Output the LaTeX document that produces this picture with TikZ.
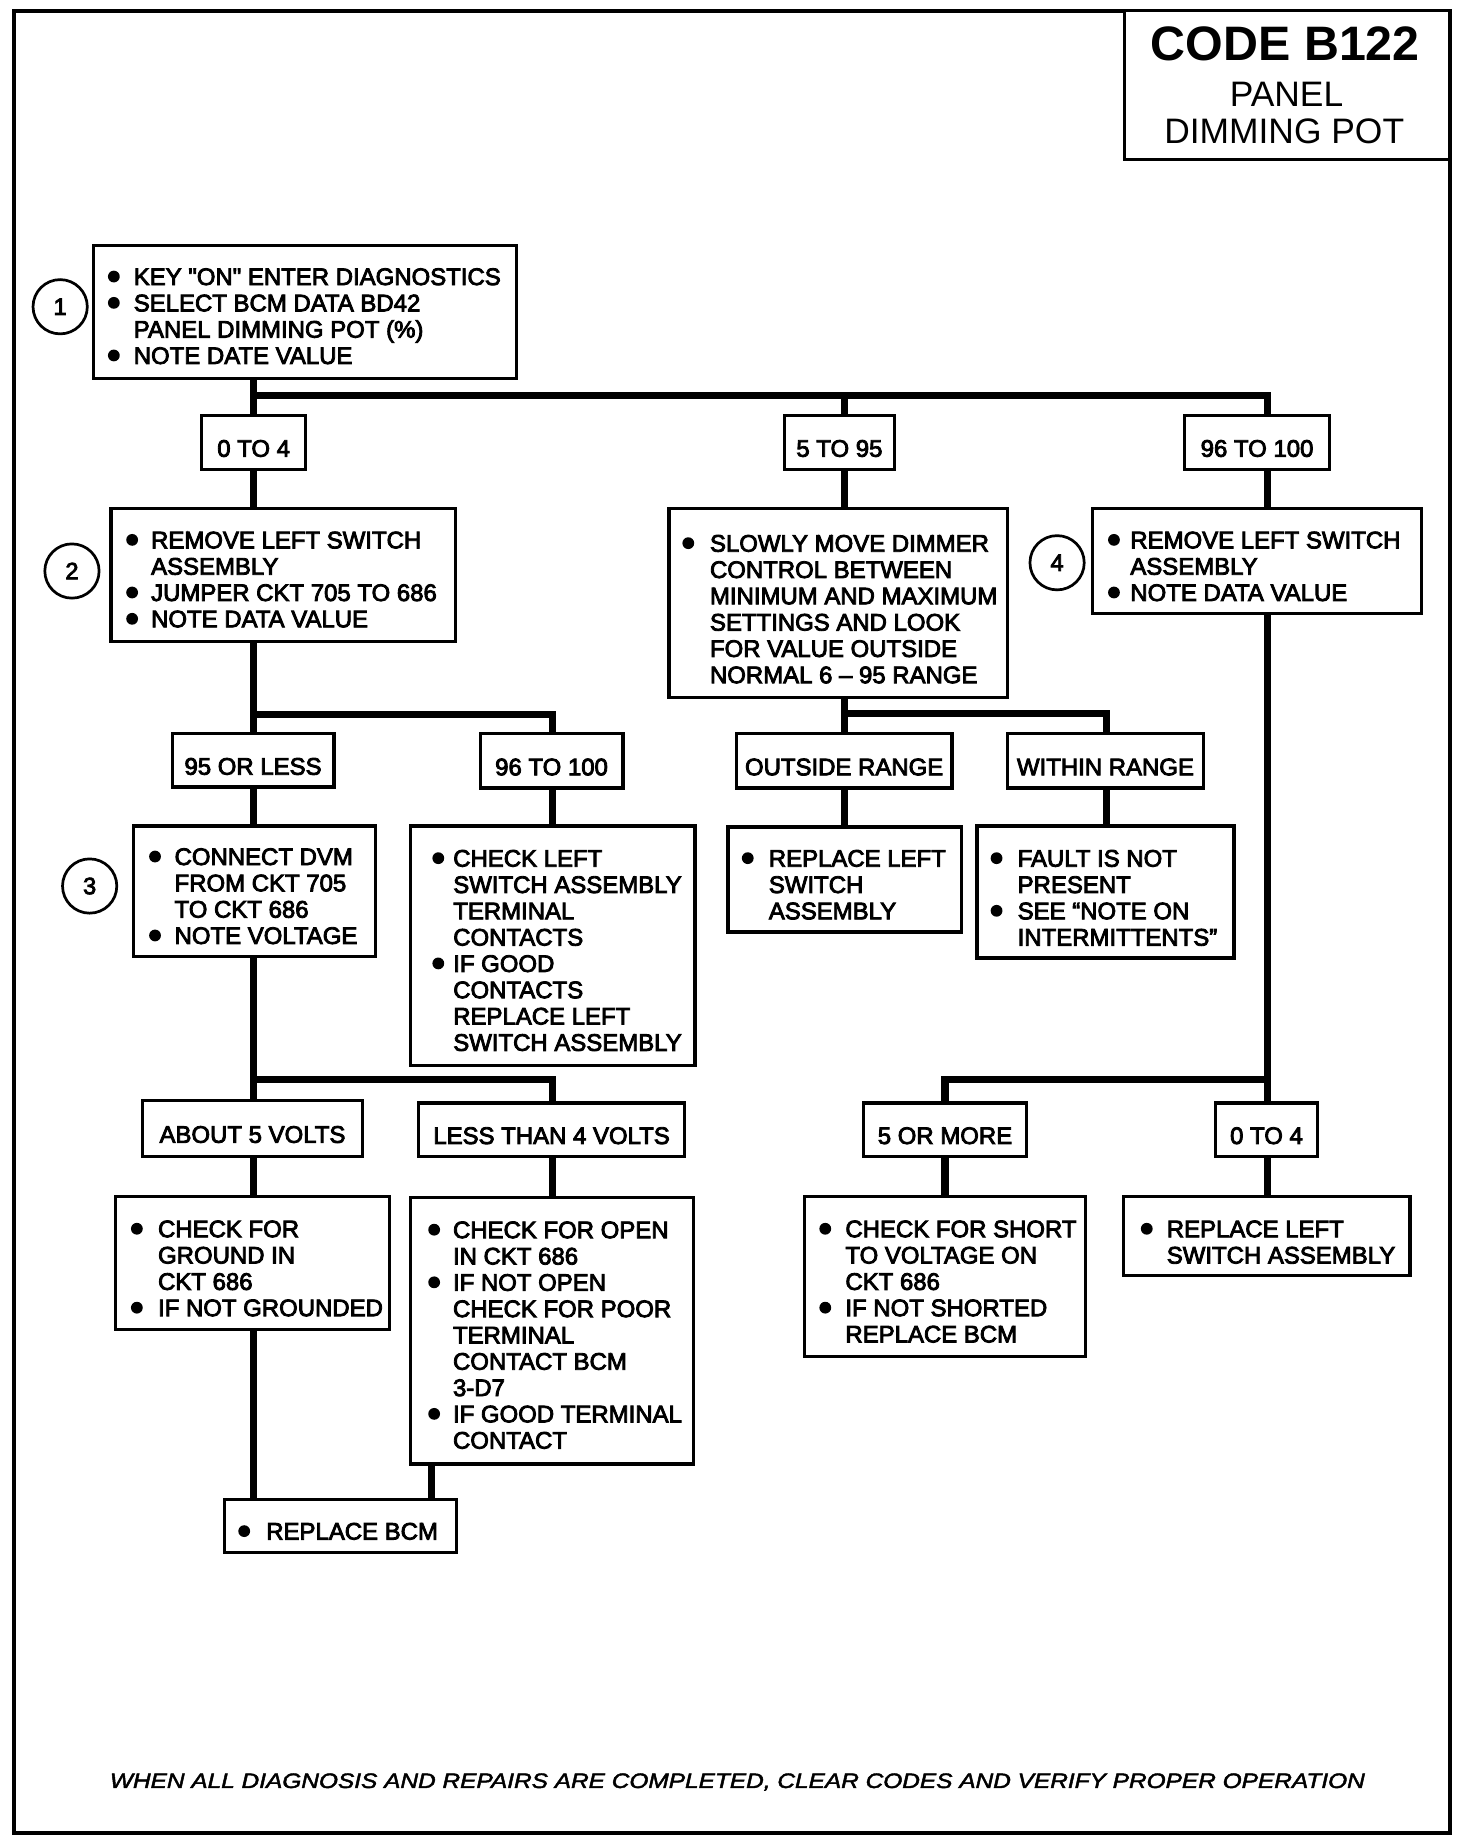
\documentclass[tikz,border=0pt]{standalone}
\usepackage{fontspec}
\setmainfont{Liberation Sans}
\newfontfamily\tf{Liberation Sans}[FakeBold=3.5]
\newfontfamily\ff{Liberation Sans Italic}[FakeBold=2]
\newcommand\bx[1]{\begin{tabular}[t]{@{}l@{}}#1\end{tabular}}
\newcommand\bul[3]{\fill (#1,{#2+#3*22.3-7.2}) circle[radius=5pt];}
\tikzset{
  box/.style={draw, line width=2.8pt, rectangle, inner sep=0pt, outer sep=0pt, fill=white},
  lab/.style={box, font=\tf\fontsize{20.3}{22.3}\selectfont, text height=24.3pt, text depth=0pt},
  txt/.style={anchor=base west, inner sep=0pt, outer sep=0pt, font=\tf\fontsize{20.3}{22.3}\selectfont},
  conn/.style={line width=6pt},
  num/.style={circle, draw, line width=2.3pt, minimum size=46pt, inner sep=0pt, font=\tf\fontsize{20}{22}\selectfont},
}
\begin{document}
\begin{tikzpicture}[x=1pt,y=-1pt]
\useasboundingbox (0,0) rectangle (1248,1563);
\fill[white] (0,0) rectangle (1248,1563);
\draw[line width=3.5pt] (12,9) rectangle (1229,1554);

% title
\node[box, minimum width=276pt, minimum height=126pt] (title) at (1091,72) {};
\node[anchor=base, inner sep=0pt] (tcode) at (1089.5,50.9) {\bfseries\fontsize{41}{41}\selectfont CODE B122};
\node[anchor=base, inner sep=0pt] (tpanel) at (1090.5,90.4) {\fontsize{30}{30}\selectfont PANEL};
\node[anchor=base, inner sep=0pt] (tdim) at (1088.5,121.5) {\fontsize{30}{30}\selectfont DIMMING POT};

% boxes
\node[box, minimum width=359pt, minimum height=113pt] (b1) at (258.5,264.5) {};
\node[lab, minimum width=88pt, minimum height=46pt] (l1) at (215,375) {0 TO 4};
\node[lab, minimum width=93pt, minimum height=46pt] (l2) at (711.5,375) {5 TO 95};
\node[lab, minimum width=123pt, minimum height=46pt] (l3) at (1065.5,375) {96 TO 100};
\node[box, minimum width=292pt, minimum height=113pt] (b2) at (240,487.5) {};
\node[box, minimum width=287pt, minimum height=160pt] (b5) at (710.5,511) {};
\node[box, minimum width=279pt, minimum height=89pt] (b4) at (1065.5,475.5) {};
\node[lab, minimum width=137pt, minimum height=45pt] (l4) at (214.5,644.5) {95 OR LESS};
\node[lab, minimum width=121pt, minimum height=46pt] (l5) at (467.5,645) {96 TO 100};
\node[lab, minimum width=183pt, minimum height=46pt] (l6) at (715.5,645) {OUTSIDE RANGE};
\node[lab, minimum width=166pt, minimum height=46pt] (l7) at (937,645) {WITHIN RANGE};
\node[box, minimum width=205pt, minimum height=111pt] (b3) at (215.5,755.5) {};
\node[box, minimum width=241pt, minimum height=203pt] (b6) at (468.5,801.5) {};
\node[box, minimum width=198pt, minimum height=89pt] (b7) at (716,745.5) {};
\node[box, minimum width=218pt, minimum height=112pt] (b8) at (937,756) {};
\node[lab, minimum width=186pt, minimum height=47pt] (l8) at (214,956.5) {ABOUT 5 VOLTS};
\node[lab, minimum width=225pt, minimum height=45pt] (l9) at (467.5,957.5) {LESS THAN 4 VOLTS};
\node[lab, minimum width=138pt, minimum height=45pt] (l10) at (801,957.5) {5 OR MORE};
\node[lab, minimum width=87pt, minimum height=45pt] (l11) at (1073.5,957.5) {0 TO 4};
\node[box, minimum width=232pt, minimum height=113pt] (b9) at (214,1070.5) {};
\node[box, minimum width=240pt, minimum height=226pt] (b10) at (468,1128) {};
\node[box, minimum width=238pt, minimum height=136pt] (b11) at (801,1082) {};
\node[box, minimum width=243pt, minimum height=67pt] (b12) at (1073.5,1047.5) {};
\node[box, minimum width=197pt, minimum height=45pt] (b13) at (288.5,1293.5) {};

% step numbers
\node[num] (c1) at (51,260) {1};
\node[num] (c2) at (61,484) {2};
\node[num] (c3) at (76,751) {3};
\node[num] (c4) at (896,477) {4};

% bus coordinates
\coordinate (A) at (215,335);
\coordinate (B) at (716,335);
\coordinate (C) at (1074,335);
\coordinate (D) at (215,606);
\coordinate (E) at (468,606);
\coordinate (F) at (716,605);
\coordinate (G) at (938,605);
\coordinate (H) at (215,915);
\coordinate (I) at (468,915);
\coordinate (K) at (1074,915);
\coordinate (L) at (801,915);
\coordinate (N) at (366,1271);

% connectors
\draw[conn] (b1.south -| A) -- (l1.north -| A);
\draw[conn] (A) -- (C) -- (l3.north -| C);
\draw[conn] (B) -- (l2.north -| B);
\draw[conn] (l1.south -| A) -- (b2.north -| A);
\draw[conn] (l2.south -| B) -- (b5.north -| B);
\draw[conn] (l3.south -| C) -- (b4.north -| C);
\draw[conn] (b2.south -| D) -- (l4.north -| D);
\draw[conn] (D) -- (E) -- (l5.north -| E);
\draw[conn] (b5.south -| F) -- (l6.north -| F);
\draw[conn] (F) -- (G) -- (l7.north -| G);
\draw[conn] (l4.south -| D) -- (b3.north -| D);
\draw[conn] (l5.south -| E) -- (b6.north -| E);
\draw[conn] (l6.south -| F) -- (b7.north -| F);
\draw[conn] (l7.south -| G) -- (b8.north -| G);
\draw[conn] (b3.south -| H) -- (l8.north -| H);
\draw[conn] (H) -- (I) -- (l9.north -| I);
\draw[conn] (b4.south -| K) -- (l11.north -| K);
\draw[conn] (K) -- (L) -- (l10.north -| L);
\draw[conn] (l8.south -| H) -- (b9.north -| H);
\draw[conn] (l9.south -| I) -- (b10.north -| I);
\draw[conn] (l10.south -| L) -- (b11.north -| L);
\draw[conn] (l11.south -| K) -- (b12.north -| K);
\draw[conn] (b9.south -| H) -- (b13.north -| H);
\draw[conn] (b10.south -| N) -- (b13.north -| N);

% box texts
\node[txt] (t1) at (113.4,241.6) {\bx{KEY "ON" ENTER DIAGNOSTICS\\ SELECT BCM DATA BD42\\ PANEL DIMMING POT (\%)\\ NOTE DATE VALUE}};
\bul{96.5}{241.6}{0}\bul{96.5}{241.6}{1}\bul{96.5}{241.6}{3}
\node[txt] (t2) at (128.1,464.8) {\bx{REMOVE LEFT SWITCH\\ ASSEMBLY\\ JUMPER CKT 705 TO 686\\ NOTE DATA VALUE}};
\bul{112}{464.8}{0}\bul{112}{464.8}{2}\bul{112}{464.8}{3}
\node[txt] (t5) at (601.8,467.6) {\bx{SLOWLY MOVE DIMMER\\ CONTROL BETWEEN\\ MINIMUM AND MAXIMUM\\ SETTINGS AND LOOK\\ FOR VALUE OUTSIDE\\ NORMAL 6 – 95 RANGE}};
\bul{583.4}{467.6}{0}
\node[txt] (t4) at (958.1,464.8) {\bx{REMOVE LEFT SWITCH\\ ASSEMBLY\\ NOTE DATA VALUE}};
\bul{944.2}{464.8}{0}\bul{944.2}{464.8}{2}
\node[txt] (t3) at (148,733.2) {\bx{CONNECT DVM\\ FROM CKT 705\\ TO CKT 686\\ NOTE VOLTAGE}};
\bul{131.4}{733.2}{0}\bul{131.4}{733.2}{3}
\node[txt] (t6) at (384.2,734.6) {\bx{CHECK LEFT\\ SWITCH ASSEMBLY\\ TERMINAL\\ CONTACTS\\ IF GOOD\\ CONTACTS\\ REPLACE LEFT\\ SWITCH ASSEMBLY}};
\bul{371.5}{734.6}{0}\bul{371.5}{734.6}{4}
\node[txt] (t7) at (651.7,734.6) {\bx{REPLACE LEFT\\ SWITCH\\ ASSEMBLY}};
\bul{633.8}{734.6}{0}
\node[txt] (t8) at (862.6,734.6) {\bx{FAULT IS NOT\\ PRESENT\\ SEE “NOTE ON\\ INTERMITTENTS”}};
\bul{844.7}{734.6}{0}\bul{844.7}{734.6}{2}
\node[txt] (t9) at (134,1048.7) {\bx{CHECK FOR\\ GROUND IN\\ CKT 686\\ IF NOT GROUNDED}};
\bul{116}{1048.7}{0}\bul{116}{1048.7}{3}
\node[txt] (t10) at (384,1049.5) {\bx{CHECK FOR OPEN\\ IN CKT 686\\ IF NOT OPEN\\ CHECK FOR POOR\\ TERMINAL\\ CONTACT BCM\\ 3-D7\\ IF GOOD TERMINAL\\ CONTACT}};
\bul{368}{1049.5}{0}\bul{368}{1049.5}{2}\bul{368}{1049.5}{7}
\node[txt] (t11) at (716.6,1048.7) {\bx{CHECK FOR SHORT\\ TO VOLTAGE ON\\ CKT 686\\ IF NOT SHORTED\\ REPLACE BCM}};
\bul{699.5}{1048.7}{0}\bul{699.5}{1048.7}{3}
\node[txt] (t12) at (989,1048.7) {\bx{REPLACE LEFT\\ SWITCH ASSEMBLY}};
\bul{972}{1048.7}{0}
\node[txt] (t13) at (225.7,1305) {\bx{REPLACE BCM}};
\bul{207}{1305}{0}

% footer
\node[anchor=base, inner sep=0pt] (foot) at (625,1515.5) {\scalebox{1.17}[1]{\ff\fontsize{17.7}{18}\selectfont WHEN ALL DIAGNOSIS AND REPAIRS ARE COMPLETED, CLEAR CODES AND VERIFY PROPER OPERATION}};
\end{tikzpicture}
\end{document}
